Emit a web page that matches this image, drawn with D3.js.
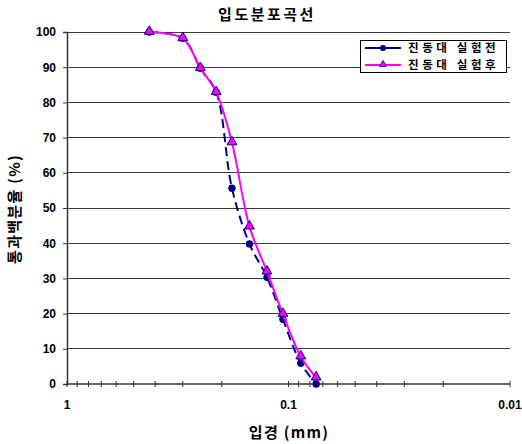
<!DOCTYPE html>
<html>
<head>
<meta charset="utf-8">
<script src="https://cdn.jsdelivr.net/npm/d3@7"></script>
<style>
  body { margin: 0; background: #fff; }
  text { font-family: "Liberation Sans", Arial, sans-serif; }
  .kr { font-family: "Noto Sans CJK KR", "Noto Sans", sans-serif; }
</style>
</head>
<body>
<svg id="chart" width="522" height="444"></svg>
<script>
// Sieve sizes (mm) and percent passing, before and after the shaking-table test
const grainSize = [0.425, 0.3, 0.25, 0.212, 0.18, 0.15, 0.125, 0.106, 0.088, 0.075];
const passingBefore = [100, 98.2, 89.7, 82.9, 55.6, 39.8, 30.3, 18.4, 5.9, 0];
const passingAfter  = [100, 98.2, 89.7, 82.9, 68.6, 44.7, 31.9, 19.9, 7.8, 1.8];
const seriesNames = ["진동대 실험전", "진동대 실험후"];
const yTicks = [0, 10, 20, 30, 40, 50, 60, 70, 80, 90, 100];
const xMajorTicks = [1, 0.1, 0.01];
const xTickLabels = ["1", "0.1", "0.01"];

const svg = d3.select("#chart");
const plot = { left: 67, right: 510, top: 32, bottom: 384 };

const x = d3.scaleLog().domain([1, 0.01]).range([plot.left, plot.right]);
const y = d3.scaleLinear().domain([0, 100]).range([plot.bottom, plot.top]);

// Horizontal gridlines
svg.append("g")
  .selectAll("line")
  .data(yTicks.filter(d => d > 0))
  .join("line")
  .attr("x1", plot.left).attr("x2", plot.right)
  .attr("y1", d => y(d)).attr("y2", d => y(d))
  .attr("stroke", "#3a3a3a").attr("stroke-width", 1)
  .attr("shape-rendering", "crispEdges");

// Y axis
const yAxis = svg.append("g")
  .attr("transform", `translate(${plot.left},0)`)
  .call(d3.axisLeft(y).tickValues(yTicks).tickSize(4).tickPadding(7));
yAxis.select(".domain").attr("stroke", "#333").attr("stroke-width", 1.5);
yAxis.selectAll(".tick line").attr("stroke", "#333");
yAxis.selectAll("text")
  .attr("font-size", 12).attr("font-weight", "bold").attr("fill", "#000")
  .style("font-family", "'Liberation Sans', Arial, sans-serif");

// X axis with log minor ticks
const minorTicks = [];
for (let dec of [0.1, 0.01]) {
  for (let k = 2; k <= 9; k++) minorTicks.push(+(dec * k).toFixed(4));
}
const xg = svg.append("g").attr("transform", `translate(0,${plot.bottom})`);
xg.append("line")
  .attr("x1", plot.left).attr("x2", plot.right)
  .attr("stroke", "#333").attr("stroke-width", 1.5);
xg.selectAll("line.minor")
  .data(minorTicks.concat(xMajorTicks))
  .join("line")
  .attr("class", "minor")
  .attr("x1", d => x(d)).attr("x2", d => x(d))
  .attr("y1", -3).attr("y2", 3)
  .attr("stroke", "#333").attr("stroke-width", 1);
xg.selectAll("text")
  .data(xMajorTicks)
  .join("text")
  .attr("x", d => x(d)).attr("y", 25)
  .attr("text-anchor", "middle")
  .attr("font-size", 12).attr("font-weight", "bold")
  .text((d, i) => xTickLabels[i]);

// Smoothed lines through the sieve points
const line = d3.line()
  .x(d => x(d[0])).y(d => y(d[1]))
  .curve(d3.curveCatmullRom.alpha(0.5));

const before = grainSize.map((g, i) => [g, passingBefore[i]]);
const after = grainSize.map((g, i) => [g, passingAfter[i]]);

svg.append("path").datum(before)
  .attr("d", line).attr("fill", "none")
  .attr("stroke", "#000080").attr("stroke-width", 2)
  .attr("stroke-dasharray", "9,5");

svg.append("g").selectAll("circle")
  .data(before).join("circle")
  .attr("cx", d => x(d[0])).attr("cy", d => y(d[1]))
  .attr("r", 3.7).attr("fill", "#000080");

svg.append("path").datum(after)
  .attr("d", line).attr("fill", "none")
  .attr("stroke", "#FF00FF").attr("stroke-width", 2);

const tri = d3.symbol().type(d3.symbolTriangle).size(42);
svg.append("g").selectAll("path")
  .data(after).join("path")
  .attr("d", tri)
  .attr("transform", d => `translate(${x(d[0])},${y(d[1]) - 0.5})`)
  .attr("fill", "#FF00FF").attr("stroke", "#000080").attr("stroke-width", 1);

// Title and axis titles
svg.append("text").attr("class", "kr")
  .attr("x", 267).attr("y", 20)
  .attr("text-anchor", "middle")
  .attr("font-size", 15).attr("font-weight", "bold")
  .attr("letter-spacing", 2.5)
  .text("입도분포곡선");

svg.append("text").attr("class", "kr")
  .attr("x", 289).attr("y", 438)
  .attr("text-anchor", "middle")
  .attr("font-size", 15).attr("font-weight", "bold")
  .attr("letter-spacing", 1.3)
  .text("입경 (mm)");

svg.append("text").attr("class", "kr")
  .attr("transform", "translate(20,209) rotate(-90)")
  .attr("text-anchor", "middle")
  .attr("font-size", 15).attr("font-weight", "bold")
  .attr("letter-spacing", 1.3)
  .text("통과백분율 (%)");

// Legend
const lg = svg.append("g");
lg.append("rect")
  .attr("x", 360.5).attr("y", 40.5).attr("width", 146).attr("height", 32)
  .attr("fill", "#fff").attr("stroke", "#000").attr("stroke-width", 1);
const rows = [
  { yy: 48, color: "#000080", marker: "circle" },
  { yy: 65, color: "#FF00FF", marker: "triangle" }
];
rows.forEach((r, i) => {
  lg.append("line")
    .attr("x1", 365).attr("x2", 401).attr("y1", r.yy).attr("y2", r.yy)
    .attr("stroke", r.color).attr("stroke-width", 2);
  if (r.marker === "circle") {
    lg.append("circle").attr("cx", 383).attr("cy", r.yy).attr("r", 3).attr("fill", "#000080");
  } else {
    lg.append("path").attr("d", d3.symbol().type(d3.symbolTriangle).size(22))
      .attr("transform", `translate(383,${r.yy - 0.5})`)
      .attr("fill", "#FF00FF").attr("stroke", "#000080").attr("stroke-width", 0.8);
  }
  lg.append("text").attr("class", "kr")
    .attr("x", 408).attr("y", r.yy + 4.2)
    .attr("font-size", 11.5).attr("font-weight", "bold")
    .attr("letter-spacing", 3.6)
    .text(seriesNames[i]);
});
</script>
</body>
</html>
